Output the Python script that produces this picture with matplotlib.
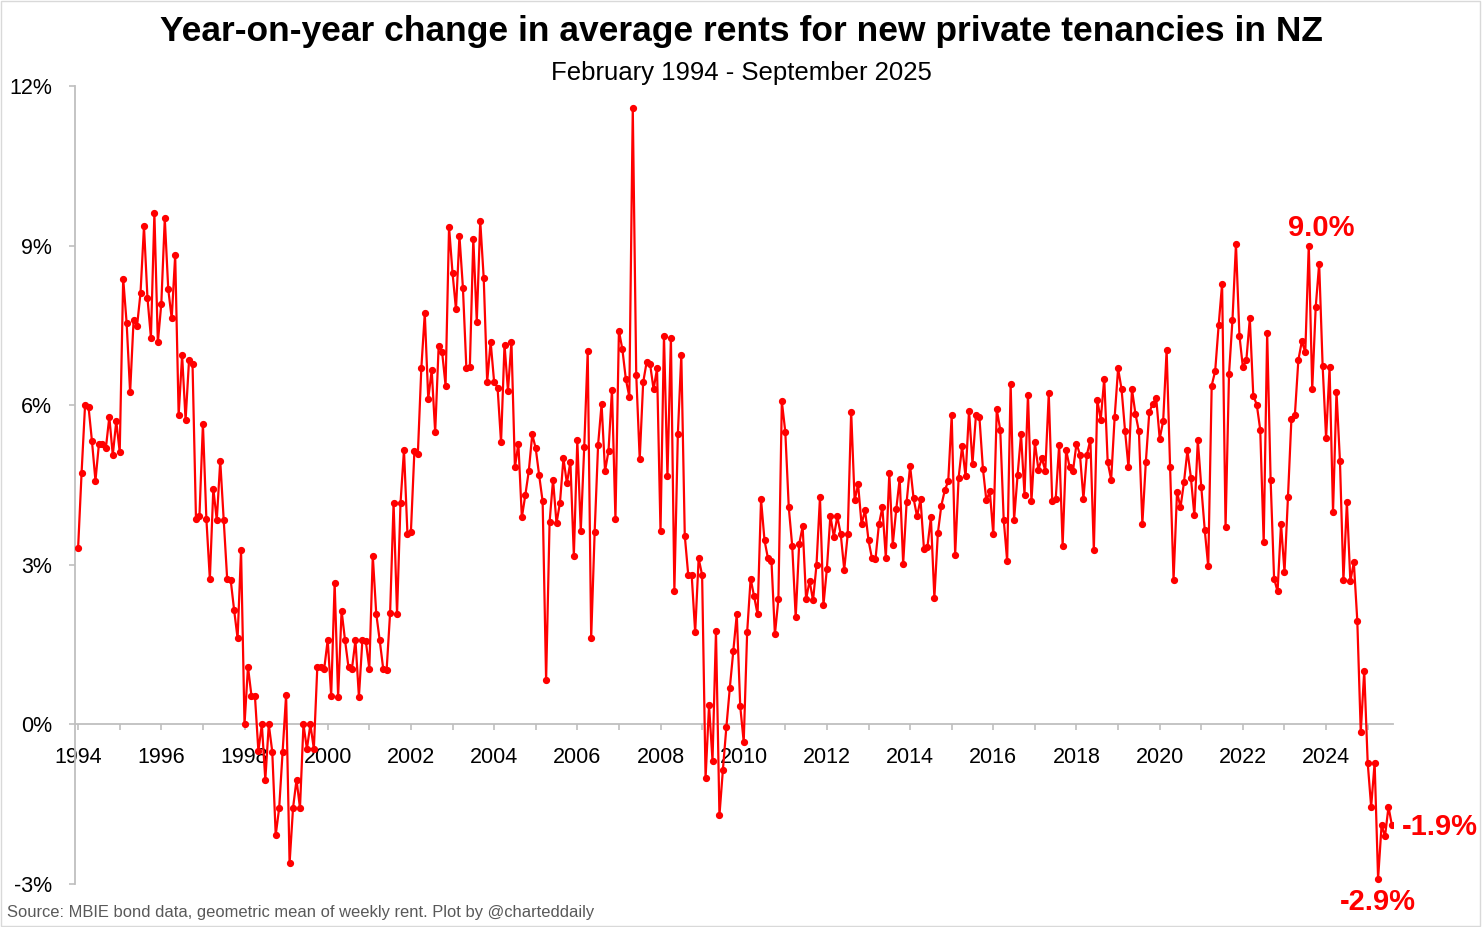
import matplotlib
matplotlib.use("Agg")
import matplotlib.pyplot as plt
from matplotlib.patches import Rectangle
import numpy as np

# monthly y/y change in mean rent for new bonds, Feb 1994 .. Sep 2025 (%)
rent_yoy = [
    3.32, 4.73, 6.00, 5.97, 5.32, 4.58, 5.27, 5.27, 5.19, 5.78,
    5.06, 5.70, 5.12, 8.38, 7.54, 6.24, 7.60, 7.49, 8.11, 9.36,
    8.02, 7.27, 9.61, 7.18, 7.91, 9.51, 8.18, 7.63, 8.82, 5.81,
    6.94, 5.72, 6.85, 6.78, 3.86, 3.92, 5.65, 3.86, 2.73, 4.43,
    3.84, 4.95, 3.84, 2.73, 2.72, 2.15, 1.62, 3.27, 0.00, 1.08,
    0.54, 0.54, -0.50, 0.00, -1.04, 0.00, -0.51, -2.08, -1.57, -0.51,
    0.56, -2.61, -1.57, -1.04, -1.57, 0.00, -0.46, 0.00, -0.46, 1.08,
    1.08, 1.05, 1.59, 0.54, 2.66, 0.52, 2.14, 1.58, 1.07, 1.05,
    1.58, 0.52, 1.58, 1.56, 1.05, 3.17, 2.08, 1.58, 1.05, 1.03,
    2.10, 4.16, 2.08, 4.16, 5.16, 3.58, 3.62, 5.13, 5.08, 6.69,
    7.73, 6.12, 6.66, 5.49, 7.11, 7.00, 6.37, 9.35, 8.49, 7.80,
    9.18, 8.21, 6.69, 6.72, 9.13, 7.57, 9.46, 8.39, 6.44, 7.19,
    6.44, 6.33, 5.30, 7.14, 6.27, 7.19, 4.83, 5.28, 3.89, 4.31,
    4.76, 5.45, 5.19, 4.68, 4.19, 0.83, 3.80, 4.60, 3.78, 4.17,
    5.00, 4.53, 4.94, 3.17, 5.34, 3.64, 5.22, 7.01, 1.62, 3.61,
    5.26, 6.02, 4.76, 5.14, 6.29, 3.86, 7.40, 7.05, 6.49, 6.16,
    11.58, 6.57, 4.99, 6.43, 6.81, 6.77, 6.30, 6.69, 3.63, 7.31,
    4.66, 7.27, 2.51, 5.45, 6.95, 3.55, 2.81, 2.80, 1.73, 3.12,
    2.81, -1.01, 0.36, -0.68, 1.75, -1.71, -0.85, -0.05, 0.69, 1.38,
    2.07, 0.34, -0.33, 1.74, 2.74, 2.41, 2.07, 4.23, 3.46, 3.12,
    3.08, 1.69, 2.35, 6.07, 5.50, 4.08, 3.35, 2.01, 3.39, 3.72,
    2.35, 2.70, 2.33, 3.00, 4.27, 2.24, 2.93, 3.92, 3.53, 3.91,
    3.57, 2.91, 3.57, 5.88, 4.21, 4.51, 3.76, 4.03, 3.46, 3.12,
    3.10, 3.76, 4.08, 3.13, 4.72, 3.38, 4.04, 4.62, 3.02, 4.18,
    4.86, 4.25, 3.91, 4.23, 3.30, 3.34, 3.89, 2.38, 3.59, 4.11,
    4.40, 4.57, 5.81, 3.19, 4.64, 5.23, 4.66, 5.90, 4.90, 5.82,
    5.77, 4.81, 4.21, 4.38, 3.57, 5.92, 5.54, 3.85, 3.07, 6.40,
    3.85, 4.68, 5.45, 4.32, 6.20, 4.19, 5.30, 4.79, 5.00, 4.77,
    6.22, 4.19, 4.23, 5.26, 3.36, 5.16, 4.84, 4.77, 5.28, 5.07,
    4.24, 5.07, 5.35, 3.27, 6.09, 5.73, 6.50, 4.93, 4.60, 5.77,
    6.69, 6.30, 5.52, 4.83, 6.30, 5.84, 5.51, 3.77, 4.93, 5.87,
    6.03, 6.13, 5.37, 5.70, 7.04, 4.83, 2.72, 4.37, 4.08, 4.55,
    5.15, 4.64, 3.93, 5.34, 4.46, 3.65, 2.97, 6.37, 6.64, 7.50,
    8.28, 3.71, 6.59, 7.61, 9.03, 7.31, 6.71, 6.85, 7.63, 6.18,
    6.01, 5.54, 3.42, 7.36, 4.59, 2.74, 2.50, 3.77, 2.86, 4.27,
    5.75, 5.82, 6.85, 7.20, 7.00, 9.00, 6.30, 7.84, 8.66, 6.74,
    5.38, 6.71, 3.99, 6.25, 4.95, 2.71, 4.18, 2.69, 3.05, 1.95,
    -0.15, 1.01, -0.72, -1.55, -0.72, -2.90, -1.90, -2.10, -1.55, -1.90,
]
year_labels = [str(y) for y in range(1994, 2025, 2)]
y_ticks = [-3, 0, 3, 6, 9, 12]

# points that get a callout
peak_idx = 355     # Sep 2023
low_idx = 375      # May 2025
last_idx = len(rent_yoy) - 1

red = "#FF0000"
grey = "#BFBFBF"
plt.rcParams["font.family"] = ["Liberation Sans", "DejaVu Sans"]

fig = plt.figure(figsize=(14.82, 9.27), dpi=100)
ax = fig.add_axes([75 / 1482, 1 - 884 / 927, (1393 - 75) / 1482, (884 - 86) / 927])

x = np.arange(len(rent_yoy))
ax.plot(x, rent_yoy, color=red, lw=1.6, marker="o", ms=4.2, zorder=3)

ax.set_xlim(-0.9, 379.3)
ax.set_ylim(-3, 12)
ax.set_yticks(y_ticks)
ax.set_yticklabels([f"{t}%" for t in y_ticks])

ax.set_xticks(np.arange(0, len(year_labels) * 24, 24))
ax.set_xticklabels(year_labels)
ax.set_xticks(np.arange(12, len(rent_yoy), 24), minor=True)

for s in ["top", "right"]:
    ax.spines[s].set_visible(False)
ax.spines["left"].set_color(grey)
ax.spines["left"].set_linewidth(1.3)
ax.spines["bottom"].set_position(("data", 0))
ax.spines["bottom"].set_color(grey)
ax.spines["bottom"].set_linewidth(1.3)

ax.tick_params(axis="y", direction="out", length=4, width=1.2, color=grey,
               pad=12.5, labelsize=15.5, labelcolor="#000000")
ax.tick_params(axis="x", which="both", direction="out", length=4, width=1.2,
               color=grey, pad=12, labelsize=15.5, labelcolor="#000000")

ax.annotate(f"{rent_yoy[peak_idx]:.1f}%", xy=(x[peak_idx], rent_yoy[peak_idx]),
            xytext=(9, 13), textcoords="offset points", ha="center", va="center",
            color=red, fontsize=21, fontweight="bold")
ax.annotate(f"{rent_yoy[low_idx]:.1f}%", xy=(x[low_idx], rent_yoy[low_idx]),
            xytext=(0, -17), textcoords="offset points", ha="center", va="center",
            color=red, fontsize=21, fontweight="bold", annotation_clip=False)
ax.annotate(f"{rent_yoy[last_idx]:.1f}%", xy=(x[last_idx], rent_yoy[last_idx]),
            xytext=(7, -1), textcoords="offset points", ha="left", va="center",
            color=red, fontsize=21, fontweight="bold", annotation_clip=False)

fig.text(0.5, 1 - 31 / 927,
         "Year-on-year change in average rents for new private tenancies in NZ",
         ha="center", va="center", fontsize=25.5, fontweight="bold")
fig.text(0.5, 1 - 73 / 927, "February 1994 - September 2025",
         ha="center", va="center", fontsize=18.5)
fig.text(7 / 1482, 1 - 912 / 927,
         "Source: MBIE bond data, geometric mean of weekly rent. Plot by @charteddaily",
         ha="left", va="center", fontsize=11.9, color="#595959")

fig.patches.append(Rectangle((0.0005, 0.0008), 0.998, 0.998, transform=fig.transFigure,
                             fill=False, edgecolor="#D9D9D9", lw=1))

fig.savefig("out.png", dpi=100)
